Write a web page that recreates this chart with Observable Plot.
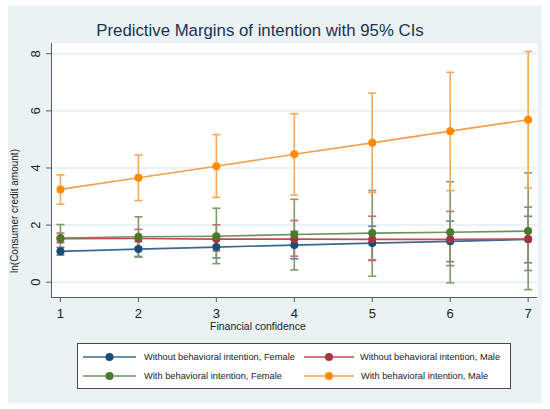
<!DOCTYPE html>
<html>
<head>
<meta charset="utf-8">
<script src="https://cdn.jsdelivr.net/npm/d3@7"></script>
<script src="https://cdn.jsdelivr.net/npm/@observablehq/plot@0.6"></script>
<style>
  body { margin: 0; background: white; }
  #fig { position: relative; width: 550px; height: 409px; background: white; font-family: "Liberation Sans", Arial, sans-serif; overflow: hidden; }
  #bg { position: absolute; left: 8px; top: 6px; width: 534px; height: 397px; background: #eaf2f3; }
  #title { position: absolute; left: 0; width: 520px; top: 21px; text-align: center; font-size: 16.8px; line-height: 20px; color: #1d3154; white-space: nowrap; }
  #chart { position: absolute; left: 0; top: 0; }
  #ylab { position: absolute; left: 14px; top: 211px; transform: translate(-50%, -50%) rotate(-90deg); font-size: 10px; color: #222; white-space: nowrap; }
  #xlab { position: absolute; left: 210px; top: 320px; font-size: 10.5px; line-height: 13px; color: #222; white-space: nowrap; }
  #legend { position: absolute; left: 77px; top: 343px; width: 432px; height: 44px; background: white; border: 1px solid #4a4a4a; }
  .item { position: absolute; height: 12px; display: flex; align-items: center; font-size: 9.3px; color: #222; white-space: nowrap; }
  .item svg { display: block; }
</style>
</head>
<body>
<div id="fig">
  <div id="bg"></div>
  <div id="title">Predictive Margins of intention with 95% CIs</div>
  <div id="chart"></div>
  <div id="ylab">ln(Consumer credit amount)</div>
  <div id="xlab">Financial confidence</div>
  <div id="legend"></div>
</div>
<script>
// ---- data ----
const confidence = [1, 2, 3, 4, 5, 6, 7];
const xTicks = [1, 2, 3, 4, 5, 6, 7];
const yTicks = [0, 2, 4, 6, 8];

const seriesNames = [
  "Without behavioral intention, Female",
  "Without behavioral intention, Male",
  "With behavioral intention, Female",
  "With behavioral intention, Male"
];

const woFemale   = [1.08, 1.16, 1.23, 1.30, 1.37, 1.43, 1.50];
const woFemaleLo = [0.95, 0.90, 0.85, 0.82, 0.78, 0.72, 0.68];
const woFemaleHi = [1.22, 1.42, 1.62, 1.78, 1.96, 2.14, 2.31];

const woMale   = [1.52, 1.53, 1.51, 1.51, 1.50, 1.50, 1.51];
const woMaleLo = [1.38, 1.22, 1.09, 0.91, 0.76, 0.58, 0.41];
const woMaleHi = [1.72, 1.85, 2.01, 2.16, 2.31, 2.48, 2.63];

const wFemale   = [1.55, 1.59, 1.61, 1.67, 1.72, 1.75, 1.79];
const wFemaleLo = [1.08, 0.88, 0.65, 0.43, 0.21, -0.02, -0.26];
const wFemaleHi = [2.02, 2.29, 2.59, 2.90, 3.21, 3.52, 3.83];

const wMale   = [3.25, 3.66, 4.06, 4.48, 4.88, 5.29, 5.69];
const wMaleLo = [2.73, 2.86, 2.97, 3.05, 3.14, 3.21, 3.31];
const wMaleHi = [3.76, 4.45, 5.17, 5.90, 6.62, 7.35, 8.08];

const markerColors = ["#1b4a77", "#a8323f", "#4b7a2b", "#ff8a00"];
const lineColors   = ["#3d6990", "#c04a57", "#70915a", "#f2a04c"];
const ciColors     = ["#5b80a3", "#c86a74", "#7d9a68", "#f3a85a"];

const xDomain = [0.885, 7.12];
const yDomain = [-0.536, 8.36];

// ---- build table ----
const groups = [
  [woFemale, woFemaleLo, woFemaleHi],
  [woMale, woMaleLo, woMaleHi],
  [wFemale, wFemaleLo, wFemaleHi],
  [wMale, wMaleLo, wMaleHi]
];
const data = [];
groups.forEach(([m, lo, hi], s) => {
  confidence.forEach((x, i) => {
    data.push({series: seriesNames[s], idx: s, x, y: m[i], lo: lo[i], hi: hi[i]});
  });
});

const capSymbol = {
  draw(context, size) {
    const r = Math.sqrt(size / Math.PI);
    context.moveTo(-r, 0);
    context.lineTo(r, 0);
  }
};

const marks = [
  Plot.frame({fill: "white", stroke: null}),
  Plot.gridY(yTicks, {stroke: "#e4edf0", strokeOpacity: 1, strokeWidth: 1.5})
];
// confidence intervals
groups.forEach((g, s) => {
  const d = data.filter(r => r.idx === s);
  marks.push(
    Plot.ruleX(d, {x: "x", y1: "lo", y2: "hi", stroke: ciColors[s], strokeWidth: 1.6}),
    Plot.dot(d, {x: "x", y: "lo", symbol: capSymbol, r: 4, stroke: ciColors[s], strokeWidth: 1.6, fill: "none"}),
    Plot.dot(d, {x: "x", y: "hi", symbol: capSymbol, r: 4, stroke: ciColors[s], strokeWidth: 1.6, fill: "none"})
  );
});
// lines and markers
groups.forEach((g, s) => {
  const d = data.filter(r => r.idx === s);
  marks.push(
    Plot.line(d, {x: "x", y: "y", stroke: lineColors[s], strokeWidth: 1.6}),
    Plot.dot(d, {x: "x", y: "y", r: 4, fill: markerColors[s], stroke: "none"})
  );
});
// axes
marks.push(
  Plot.ruleX([xDomain[0]], {stroke: "#5a5a5a", strokeWidth: 1}),
  Plot.ruleY([yDomain[0]], {stroke: "#5a5a5a", strokeWidth: 1}),
  Plot.axisY(yTicks, {tickRotate: -90, tickSize: 5, tickPadding: 7, label: null, stroke: "#5a5a5a", fill: "#222", fontSize: 13}),
  Plot.axisX(xTicks, {tickSize: 5, tickPadding: 6, label: null, stroke: "#5a5a5a", fill: "#222", fontSize: 13, tickFormat: d => String(d)})
);

const chart = Plot.plot({
  width: 550,
  height: 340,
  marginTop: 43,
  marginBottom: 43,
  marginLeft: 51,
  marginRight: 13,
  style: {background: "transparent", fontFamily: "'Liberation Sans', Arial, sans-serif", fontSize: "13px", overflow: "visible"},
  x: {domain: xDomain},
  y: {domain: yDomain},
  marks
});
document.getElementById("chart").appendChild(chart);

// ---- legend ----
const legend = document.getElementById("legend");
const pos = [
  {left: 5, top: 7, lineW: 53, textGap: 8},
  {left: 226, top: 7, lineW: 50, textGap: 6},
  {left: 5, top: 26, lineW: 53, textGap: 8},
  {left: 226, top: 26, lineW: 50, textGap: 7}
];
seriesNames.forEach((name, s) => {
  const p = pos[s];
  const item = document.createElement("div");
  item.className = "item";
  item.style.left = p.left + "px";
  item.style.top = p.top + "px";
  const w = p.lineW;
  item.innerHTML =
    `<svg width="${w}" height="12"><line x1="0" x2="${w}" y1="6" y2="6" stroke="${lineColors[s]}" stroke-width="1.6"/>` +
    `<circle cx="${w / 2}" cy="6" r="4" fill="${markerColors[s]}"/></svg>` +
    `<span style="margin-left:${p.textGap}px">${name}</span>`;
  legend.appendChild(item);
});
</script>
</body>
</html>
